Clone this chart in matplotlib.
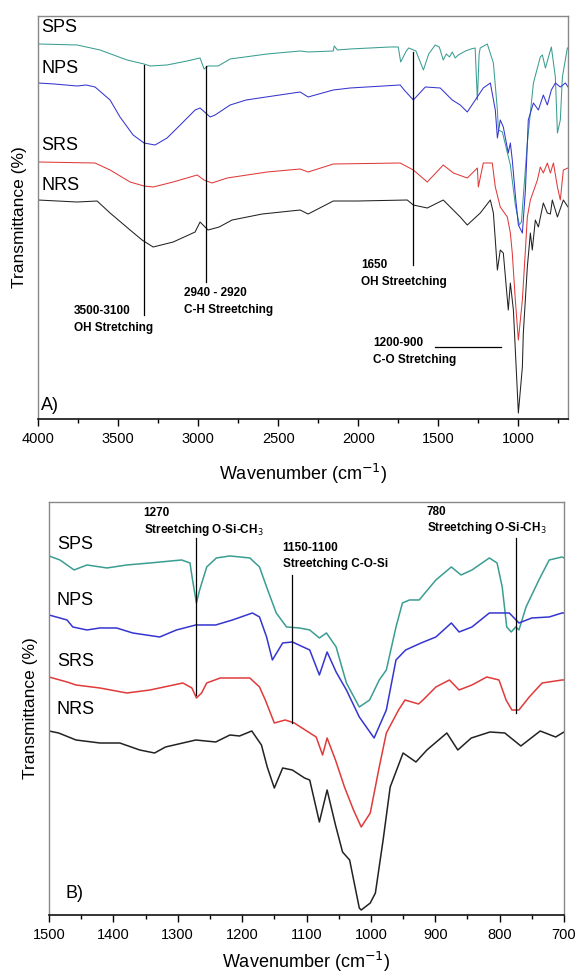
import matplotlib
matplotlib.use("Agg")
import matplotlib.pyplot as plt
from matplotlib.ticker import MultipleLocator

plt.rcParams['font.family'] = ['Liberation Sans', 'DejaVu Sans']

# =========================
# 1) Panel A data (full range, arbitrary transmittance units)
# =========================
sps_a_wn = [4000, 3756, 3613, 3444, 3338, 3300, 3194, 3069, 2988, 2963, 2938, 2875, 2800,
            2569, 2363, 2313, 2156, 2150, 2130, 2050, 1800, 1750, 1735, 1700, 1685, 1640,
            1593, 1560, 1519, 1494, 1469, 1450, 1430, 1413, 1394, 1375, 1330, 1296, 1270,
            1256, 1245, 1238, 1194, 1156, 1131, 1125, 1100, 1050, 1019, 994, 981, 944,
            906, 863, 850, 831, 794, 769, 756, 738, 725, 694, 690]
sps_a_t = [375, 374, 369, 359, 355, 353, 354, 358, 361, 350, 353, 353, 360,
           365, 368, 367, 368, 373, 369, 370, 372, 372, 357, 368, 371, 368,
           349, 365, 374, 372, 359, 365, 362, 367, 361, 364, 368, 370, 371,
           319, 365, 371, 375, 356, 309, 289, 287, 254, 214, 194, 197, 276,
           336, 362, 364, 351, 372, 342, 286, 299, 342, 371, 371]

nps_a_wn = [4000, 3900, 3756, 3700, 3644, 3550, 3488, 3406, 3338, 3269, 3194, 3112, 3019,
            2988, 2925, 2894, 2800, 2700, 2575, 2363, 2313, 2156, 2050, 1738, 1713, 1656, 1581,
            1488, 1413, 1363, 1319, 1269, 1219, 1175, 1144, 1131, 1113, 1094, 1063, 1050,
            1038, 1019, 1000, 975, 956, 938, 906, 875, 844, 819, 794, 769, 738, 706, 690]
nps_a_t = [336, 335, 333, 334, 332, 319, 302, 284, 276, 274, 281, 294, 309,
           311, 302, 304, 314, 319, 322, 327, 322, 329, 331, 334, 329, 319, 332,
           331, 319, 314, 307, 319, 331, 336, 309, 281, 299, 292, 266, 276,
           259, 224, 194, 186, 229, 299, 316, 309, 324, 314, 329, 336, 332, 336, 332]

srs_a_wn = [4000, 3644, 3550, 3425, 3338, 3281, 3156, 3006, 2963, 2913, 2819, 2569, 2363,
            2313, 2156, 1738, 1656, 1569, 1469, 1406, 1319, 1256, 1250, 1219, 1163, 1144,
            1113, 1069, 1050, 1038, 1019, 1000, 975, 956, 944, 925, 881, 863, 844, 819,
            800, 781, 756, 738, 719, 690]
srs_a_t = [257, 256, 249, 237, 233, 232, 237, 244, 239, 236, 241, 247, 250,
           247, 255, 256, 249, 237, 254, 246, 241, 251, 232, 256, 256, 232,
           212, 202, 186, 166, 119, 79, 119, 169, 202, 219, 239, 252, 246, 256,
           246, 256, 232, 219, 249, 251]

nrs_a_wn = [4000, 3756, 3631, 3550, 3425, 3350, 3281, 3156, 3019, 2988, 2938, 2869, 2788,
            2600, 2363, 2313, 2156, 2006, 1694, 1656, 1569, 1469, 1363, 1319, 1238, 1175, 1156,
            1144, 1131, 1113, 1094, 1063, 1050, 1031, 1019, 1000, 975, 969, 944, 925, 913,
            894, 875, 844, 819, 800, 788, 756, 719, 690]
nrs_a_t = [219, 217, 218, 206, 189, 179, 172, 177, 187, 197, 189, 192, 199,
           205, 209, 205, 218, 218, 219, 214, 211, 219, 202, 194, 206, 219, 206,
           179, 149, 169, 166, 109, 136, 109, 69, 6, 52, 86, 152, 186, 169,
           199, 192, 216, 206, 205, 219, 202, 219, 212]

# =========================
# 2) Panel B data (1500-700 cm-1)
# =========================
sps_b_wn = [1500, 1483, 1461, 1441, 1410, 1379, 1343, 1294, 1281, 1277, 1271, 1266, 1255,
            1240, 1219, 1188, 1173, 1162, 1147, 1131, 1111, 1095, 1080, 1069, 1054, 1038,
            1018, 1002, 987, 976, 961, 951, 940, 925, 899, 875, 860, 843, 816, 804, 796,
            789, 782, 775, 770, 759, 739, 723, 703, 700]
sps_b_t = [359, 355, 345, 350, 347, 350, 352, 355, 352, 335, 312, 325, 348,
           357, 359, 357, 348, 328, 302, 288, 287, 285, 277, 282, 268, 232,
           208, 215, 235, 245, 288, 312, 315, 315, 335, 348, 340, 345, 357, 352, 328,
           288, 283, 288, 285, 308, 335, 355, 358, 357]

nps_b_wn = [1500, 1472, 1463, 1441, 1421, 1395, 1370, 1328, 1302, 1272, 1241, 1215, 1184,
            1173, 1162, 1153, 1137, 1122, 1095, 1080, 1068, 1054, 1038, 1018, 995, 976,
            961, 946, 922, 899, 875, 863, 843, 816, 785, 770, 750, 723, 703, 700]
nps_b_t = [300, 295, 288, 285, 287, 287, 282, 278, 285, 290, 290, 295, 302,
           298, 278, 255, 272, 273, 265, 240, 263, 243, 225, 198, 177, 205,
           255, 265, 272, 278, 292, 283, 288, 302, 302, 292, 297, 298, 302, 302]

srs_b_wn = [1500, 1472, 1458, 1421, 1379, 1343, 1292, 1278, 1271, 1263, 1255, 1234, 1188,
            1173, 1164, 1150, 1133, 1119, 1102, 1085, 1075, 1068, 1055, 1041, 1027, 1015,
            1001, 987, 976, 957, 947, 926, 919, 899, 878, 863, 843, 820, 801, 790, 781,
            770, 754, 734, 703, 700]
srs_b_t = [238, 233, 230, 227, 222, 225, 232, 227, 217, 222, 232, 237, 237,
           228, 215, 192, 195, 192, 185, 178, 160, 177, 155, 128, 105, 88,
           102, 148, 182, 205, 215, 211, 215, 228, 235, 225, 230, 238, 235, 215, 205,
           205, 218, 232, 235, 235]

nrs_b_wn = [1500, 1485, 1458, 1421, 1390, 1359, 1336, 1319, 1272, 1241, 1219, 1204, 1185,
            1170, 1161, 1150, 1137, 1122, 1103, 1095, 1080, 1068, 1055, 1044, 1033, 1018,
            1015, 1001, 993, 981, 970, 950, 930, 913, 882, 865, 844, 815, 792, 767, 737,
            713, 700]
nrs_b_t = [184, 182, 175, 172, 172, 165, 162, 168, 175, 173, 180, 179, 184,
           170, 148, 127, 147, 145, 137, 135, 93, 125, 90, 63, 55, 7,
           5, 12, 22, 75, 128, 162, 153, 165, 182, 165, 177, 183, 182, 169, 184,
           178, 183]

sample_names = ["SPS", "NPS", "SRS", "NRS"]
sample_colors = ["#3a9d92", "#3535d0", "#e03a3a", "#222222"]

# =========================
# 3) Figure and axes
# =========================
fig = plt.figure(figsize=(5.77, 9.8), dpi=100)
ax_a = fig.add_axes([0.0659, 0.5724, 0.9185, 0.4113])
ax_b = fig.add_axes([0.0849, 0.0663, 0.8926, 0.4215])

series_a = [(sps_a_wn, sps_a_t), (nps_a_wn, nps_a_t), (srs_a_wn, srs_a_t), (nrs_a_wn, nrs_a_t)]
series_b = [(sps_b_wn, sps_b_t), (nps_b_wn, nps_b_t), (srs_b_wn, srs_b_t), (nrs_b_wn, nrs_b_t)]

for (wn, t), c in zip(series_a, sample_colors):
    ax_a.plot(wn, t, color=c, lw=0.75)
for (wn, t), c in zip(series_b, sample_colors):
    ax_b.plot(wn, t, color=c, lw=1.1)

ax_a.set_xlim(4000, 690)
ax_a.set_ylim(0, 403)
ax_b.set_xlim(1500, 700)
ax_b.set_ylim(0, 413)

ax_a.xaxis.set_major_locator(MultipleLocator(500))
ax_a.xaxis.set_minor_locator(MultipleLocator(250))
ax_b.xaxis.set_major_locator(MultipleLocator(100))
ax_b.xaxis.set_minor_locator(MultipleLocator(50))

for ax in (ax_a, ax_b):
    ax.set_yticks([])
    ax.tick_params(axis="x", which="major", direction="out", length=5, width=1, labelsize=10.5, pad=4)
    ax.tick_params(axis="x", which="minor", direction="out", length=3, width=1)
    for side in ["top", "right", "left"]:
        ax.spines[side].set_color("#888888")
        ax.spines[side].set_linewidth(1.0)
    ax.spines["bottom"].set_color("#111111")
    ax.spines["bottom"].set_linewidth(1.2)
    ax.set_ylabel("Transmittance (%)", fontsize=12.5, labelpad=8)

ax_a.set_xlabel("Wavenumber (cm$^{-1}$)", fontsize=13, labelpad=12)
ax_b.set_xlabel("Wavenumber (cm$^{-1}$)", fontsize=13, labelpad=6)

# =========================
# 4) Sample labels
# =========================
label_y_a = [391, 350, 273, 234]
label_y_b = [370, 314, 253, 205]
for name, ya, yb in zip(sample_names, label_y_a, label_y_b):
    ax_a.text(3981, ya, name, fontsize=13, ha="left", va="center")
    ax_b.text(1488, yb, name, fontsize=13, ha="left", va="center")

ax_a.text(3981, 14, "A)", fontsize=13, ha="left", va="center")
ax_b.text(1475, 22, "B)", fontsize=13, ha="left", va="center")

# =========================
# 5) Band annotations
# =========================
fs = 8.5
ax_a.plot([3338, 3338], [104, 354], color="black", lw=0.9)
ax_a.text(3775, 108, "3500-3100", fontsize=fs, fontweight="bold", ha="left", va="center")
ax_a.text(3775, 91, "OH Stretching", fontsize=fs, fontweight="bold", ha="left", va="center")

ax_a.plot([2950, 2950], [137, 353], color="black", lw=0.9)
ax_a.text(3088, 126, "2940 - 2920", fontsize=fs, fontweight="bold", ha="left", va="center")
ax_a.text(3088, 109, "C-H Streetching", fontsize=fs, fontweight="bold", ha="left", va="center")

ax_a.plot([1656, 1656], [154, 367], color="black", lw=0.9)
ax_a.text(1981, 154, "1650", fontsize=fs, fontweight="bold", ha="left", va="center")
ax_a.text(1981, 137, "OH Streetching", fontsize=fs, fontweight="bold", ha="left", va="center")

ax_a.plot([1519, 1106], [72, 72], color="black", lw=0.9)
ax_a.text(1906, 76, "1200-900", fontsize=fs, fontweight="bold", ha="left", va="center")
ax_a.text(1906, 59, "C-O Stretching", fontsize=fs, fontweight="bold", ha="left", va="center")

ax_b.plot([1271, 1271], [220, 377], color="black", lw=0.9)
ax_b.text(1353, 402, "1270", fontsize=fs, fontweight="bold", ha="left", va="center")
ax_b.text(1353, 385, "Streetching O-Si-CH$_3$", fontsize=fs, fontweight="bold", ha="left", va="center")

ax_b.plot([1122, 1122], [192, 340], color="black", lw=0.9)
ax_b.text(1137, 367, "1150-1100", fontsize=fs, fontweight="bold", ha="left", va="center")
ax_b.text(1137, 351, "Streetching C-O-Si", fontsize=fs, fontweight="bold", ha="left", va="center")

ax_b.plot([775, 775], [202, 377], color="black", lw=0.9)
ax_b.text(913, 403, "780", fontsize=fs, fontweight="bold", ha="left", va="center")
ax_b.text(913, 387, "Streetching O-Si-CH$_3$", fontsize=fs, fontweight="bold", ha="left", va="center")

fig.savefig("out.png", dpi=100)
